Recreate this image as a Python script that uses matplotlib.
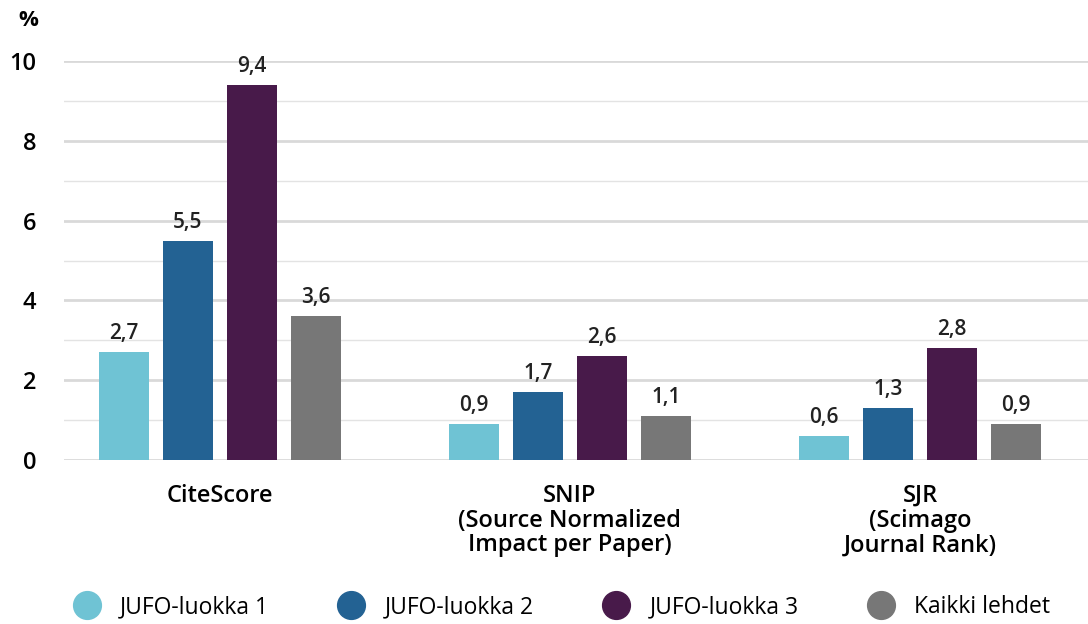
import numpy as np
import matplotlib
matplotlib.use('Agg')
import matplotlib.pyplot as plt
from matplotlib.lines import Line2D

plt.rcParams['font.family'] = ['Open Sans', 'DejaVu Sans']

categories = ['CiteScore', 'SNIP\n(Source Normalized\nImpact per Paper)', 'SJR\n(Scimago\nJournal Rank)']
series = ['JUFO-luokka 1', 'JUFO-luokka 2', 'JUFO-luokka 3', 'Kaikki lehdet']
jufo1 = [2.7, 0.9, 0.6]
jufo2 = [5.5, 1.7, 1.3]
jufo3 = [9.4, 2.6, 2.8]
kaikki = [3.6, 1.1, 0.9]
colors = ['#6fc3d4', '#236293', '#481a4a', '#777777']

fig = plt.figure(figsize=(10.88, 6.24), dpi=100)
ax = fig.add_axes([64/1088, 1-460/624, 1-64/1088, (460-61)/624])

x = np.arange(len(categories))
w = 50/350
step = 64/350
for i, (vals, c) in enumerate(zip([jufo1, jufo2, jufo3, kaikki], colors)):
    pos = x + (i-1.5)*step
    ax.bar(pos, vals, width=w, color=c, zorder=3)
    for p, v in zip(pos, vals):
        ax.text(p, v+0.2, ('%.1f' % v).replace('.', ','), ha='center', va='bottom',
                fontsize=15, fontweight='semibold', color='#222222')

ax.set_ylim(0, 10)
ax.set_xlim(-156/350, 868/350)
ax.set_yticks([0, 2, 4, 6, 8, 10])
ax.set_yticks([1, 3, 5, 7, 9], minor=True)
ax.grid(axis='y', which='major', color='#d9d9d9', lw=2, zorder=0)
ax.grid(axis='y', which='minor', color='#e3e3e3', lw=1, zorder=0)
for s in ax.spines.values():
    s.set_visible(False)
ax.tick_params(axis='y', which='both', length=0, pad=20, labelsize=17)
for t in ax.get_yticklabels():
    t.set_fontweight('semibold')
ax.set_xticks(x)
ax.set_xticklabels(categories, fontsize=17, fontweight='semibold', linespacing=1.05)
ax.tick_params(axis='x', length=0, pad=17)
fig.text(28/1088, 1-20/624, '%', fontsize=16, fontweight='bold', ha='center', va='center')

handles = [Line2D([], [], marker='o', ls='', color=c, markersize=20) for c in colors]
fig.legend(handles, series, loc='center', bbox_to_anchor=(0.512, 1-607/624), ncol=4,
           frameon=False, fontsize=16.5, handletextpad=0.45, columnspacing=2.6)

fig.savefig('out.png', dpi=100)
